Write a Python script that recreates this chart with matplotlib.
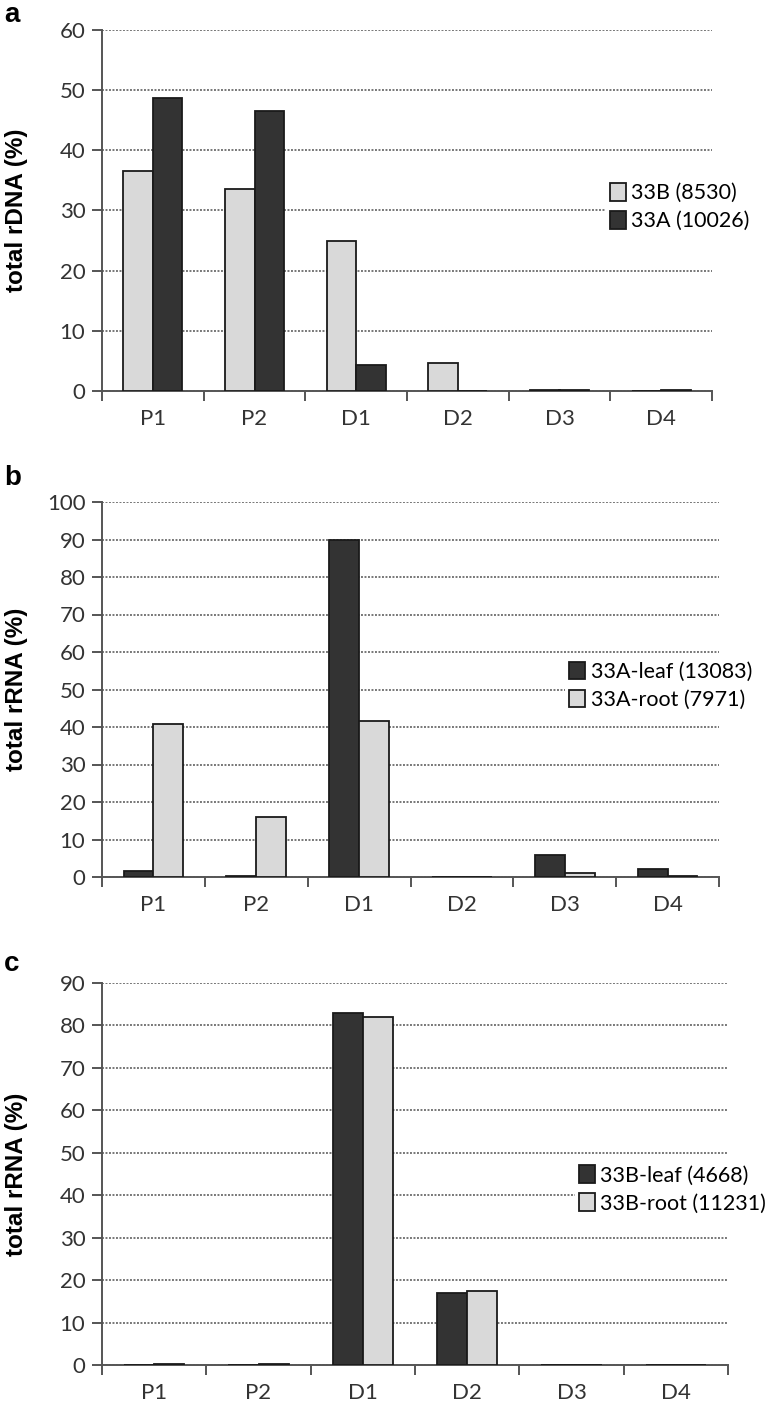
import numpy as np
import matplotlib
matplotlib.use("Agg")
import matplotlib.pyplot as plt

# data
categories = ["P1", "P2", "D1", "D2", "D3", "D4"]

a_33B = [36.5, 33.5, 24.9, 4.7, 0.1, 0.0]
a_33A = [48.7, 46.6, 4.4, 0.0, 0.1, 0.1]

b_leaf = [1.5, 0.2, 90.0, 0.0, 6.0, 2.1]
b_root = [40.9, 16.0, 41.7, 0.0, 1.0, 0.3]

c_leaf = [0.1, 0.0, 82.9, 16.9, 0.0, 0.0]
c_root = [0.3, 0.2, 81.9, 17.4, 0.0, 0.0]

DARK = "#333333"
LIGHT = "#d9d9d9"
BOLD = ["Liberation Sans", "DejaVu Sans"]

plt.rcParams["font.family"] = ["Lato", "DejaVu Sans"]
fig = plt.figure(figsize=(7.79, 14.05), dpi=100)
H = 1405.0
W = 779.0


def panel(rect, s1, s2, c1, c2, l1, l2, ymax, ylabel, letter, letter_y, leg_x, leg_y):
    ax = fig.add_axes(rect)
    x = np.arange(len(categories))
    w = 0.29
    ax.bar(x - w / 2, s1, w, color=c1, edgecolor="#1a1a1a", linewidth=1.3,
           label=l1, zorder=3)
    ax.bar(x + w / 2, s2, w, color=c2, edgecolor="#1a1a1a", linewidth=1.3,
           label=l2, zorder=3)
    ax.set_xlim(-0.5, len(categories) - 0.5)
    ax.set_ylim(0, ymax)
    ax.set_yticks(np.arange(0, ymax + 1, 10))
    ax.yaxis.grid(True, color="#777777", linestyle=(0, (1, 0.8)), linewidth=1.4)
    ax.set_axisbelow(True)
    for s in ["top", "right"]:
        ax.spines[s].set_visible(False)
    for s in ["left", "bottom"]:
        ax.spines[s].set_color("#555555")
        ax.spines[s].set_linewidth(1.4)
    ax.set_xticks(np.arange(-0.5, len(categories), 1.0))
    ax.set_xticklabels([])
    ax.set_xticks(x, minor=True)
    ax.set_xticklabels(categories, minor=True, fontsize=16, color="#333333")
    ax.tick_params(axis="x", which="major", length=7, width=1.4, color="#555555")
    ax.tick_params(axis="x", which="minor", length=0, pad=13)
    ax.tick_params(axis="y", length=7, width=1.4, color="#555555",
                   labelsize=16, labelcolor="#333333", pad=5)
    y_mid = rect[1] + rect[3] / 2
    fig.text(17 / W, y_mid, ylabel, rotation=90, fontsize=17.5, fontweight="bold",
             family=BOLD, ha="center", va="center")
    leg = ax.legend(loc="center left", bbox_to_anchor=(leg_x, leg_y),
                    frameon=True, fontsize=15.5, handlelength=0.75,
                    handleheight=0.9, handletextpad=0.25, labelspacing=0.35,
                    borderpad=0.2, borderaxespad=0)
    leg.get_frame().set_edgecolor("none")
    leg.get_frame().set_facecolor("white")
    leg.get_frame().set_alpha(1)
    fig.text(4 / W, 1 - letter_y / H, letter, fontsize=20,
             fontweight="bold", family=BOLD, va="center", ha="left")
    return ax


panel([102 / W, 1 - 391 / H, 610 / W, 361 / H], a_33B, a_33A, LIGHT, DARK,
      "33B (8530)", "33A (10026)", 60, "total rDNA (%)", "a", 15, 0.825, 0.51)
panel([102 / W, 1 - 877 / H, 617 / W, 375 / H], b_leaf, b_root, DARK, LIGHT,
      "33A-leaf (13083)", "33A-root (7971)", 100, "total rRNA (%)", "b", 478,
      0.75, 0.51)
panel([102 / W, 1 - 1365 / H, 626 / W, 382 / H], c_leaf, c_root, DARK, LIGHT,
      "33B-leaf (4668)", "33B-root (11231)", 90, "total rRNA (%)", "c", 964,
      0.755, 0.46)

fig.savefig("out.png", dpi=100)
